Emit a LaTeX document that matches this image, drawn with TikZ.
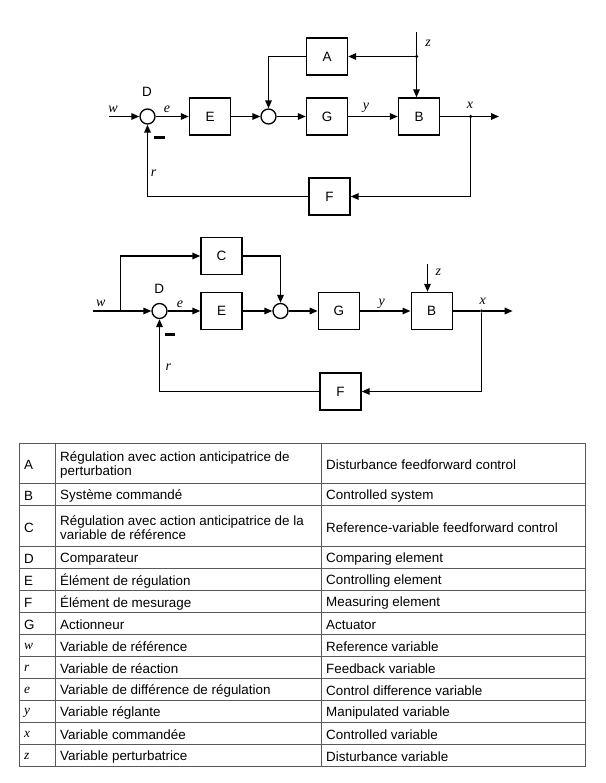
\documentclass[tikz,border=0pt]{standalone}
\usepackage{fontspec}
\setmainfont{Liberation Sans}
\newfontfamily\tmsfont{Liberation Serif}
\usepackage{tikz}
\usetikzlibrary{arrows.meta,positioning}
\newcommand{\vr}[1]{{\tmsfont\itshape #1}}

\tikzset{
  blk/.style={draw, line width=1.4pt, minimum width=41pt, minimum height=37pt, inner sep=0pt, font=\fontsize{13.5}{15}\selectfont},
  sumpt/.style={circle, draw, line width=1.3pt, minimum size=15pt, inner sep=0pt},
  sig/.style={line width=1.6pt},
  dot/.style={circle, fill, inner sep=0pt, minimum size=3.5pt},
  lbl/.style={font=\fontsize{14}{16}\selectfont\tmsfont\itshape, inner sep=0pt},
  tag/.style={font=\fontsize{13.5}{15}\selectfont, inner sep=0pt},
  tbl/.style={draw=black!65, line width=1pt},
  cell/.style={font=\fontsize{13.4}{14}\selectfont, anchor=west, inner sep=0pt, align=left},
}

\begin{document}
\begin{tikzpicture}[x=1pt,y=-1pt,>={Triangle[length=8pt,width=6.5pt]}]
        \useasboundingbox (0,0) rectangle (605,783);

        % Disturbance feedforward
        \coordinate (w1) at (109,116.5);
        \node[sumpt] (D1) at (147.5,116.5) {};
        \node[blk] (E1) at (210,116.5) {E};
        \node[sumpt] (S1) at (268.5,116.5) {};
        \node[blk] (G1) at (327,116.5) {G};
        \node[blk] (B1) at (419,116.5) {B};
        \node[dot] (X1) at (470.5,116.5) {};
        \coordinate (o1) at (499,116.5);
        \node[blk] (A1) at (327,56.5) {A};
        \coordinate (z1) at (416.5,32.5);
        \node[dot] (Z1) at (416.5,56.5) {};
        \node[blk] (F1) at (329.5,196.5) {F};

        \draw[sig,->] (w1) -- (D1);
        \draw[sig,->] (D1) -- (E1);
        \draw[sig,->] (E1) -- (S1);
        \draw[sig,->] (S1) -- (G1);
        \draw[sig,->] (G1) -- (B1);
        \draw[sig] (B1) -- (X1);
        \draw[sig,->] (X1) -- (o1);
        \draw[sig] (z1) -- (Z1);
        \draw[sig,->] (Z1) -- (Z1 |- B1.north);
        \draw[sig,->] (Z1) -- (A1);
        \draw[sig,->] (A1) -| (S1);
        \draw[sig,->] (X1) |- (F1);
        \draw[sig,->] (F1) -| (D1);

        \node[tag] (d1) at (147,92) {D};
        \node[lbl] (lw1) at (113,109) {w};
        \node[lbl] (le1) at (167,109) {e};
        \node[lbl] (ly1) at (366,108) {y};
        \node[lbl] (lx1) at (470,105) {x};
        \node[lbl] (lz1) at (428,43) {z};
        \node[lbl] (lr1) at (153.5,173) {r};
        \fill (154,136.5) rectangle (165,139.5);

        % Reference-variable feedforward
        \coordinate (w2) at (92.5,311);
        \coordinate (j2) at (120.5,311);
        \node[sumpt] (D2) at (159.5,311) {};
        \node[blk] (C2) at (221.5,256) {C};
        \node[blk] (E2) at (221.5,311) {E};
        \node[sumpt] (S2) at (280.5,311) {};
        \node[blk] (G2) at (338.8,311) {G};
        \node[blk] (B2) at (431.7,311) {B};
        \node[dot] (X2) at (481.5,311) {};
        \coordinate (o2) at (512.7,311);
        \coordinate (z2) at (427.5,264);
        \node[blk] (F2) at (340.5,391.5) {F};

        \draw[sig] (w2) -- (j2);
        \draw[sig,->] (j2) -- (D2);
        \draw[sig,->] (j2) |- (C2);
        \draw[sig,->] (C2) -| (S2);
        \draw[sig,->] (D2) -- (E2);
        \draw[sig,->] (E2) -- (S2);
        \draw[sig,->] (S2) -- (G2);
        \draw[sig,->] (G2) -- (B2);
        \draw[sig] (B2) -- (X2);
        \draw[sig,->] (X2) -- (o2);
        \draw[sig,->] (z2) -- (z2 |- B2.north);
        \draw[sig,->] (X2) |- (F2);
        \draw[sig,->] (F2) -| (D2);

        \node[tag] (d2) at (159.3,289.3) {D};
        \node[lbl] (lw2) at (100.7,303) {w};
        \node[lbl] (le2) at (180,304) {e};
        \node[lbl] (ly2) at (381.7,304) {y};
        \node[lbl] (lx2) at (482.7,301) {x};
        \node[lbl] (lz2) at (438.3,272.7) {z};
        \node[lbl] (lr2) at (168.3,367.3) {r};
        \fill (165,332.8) rectangle (175,335.8);

        % Legend table
        \draw[tbl] (19,443) rectangle (585,766);
        \draw[tbl] (55,443) -- (55,766);
        \draw[tbl] (321,443) -- (321,766);
        \foreach \y in {483.5,505.5,546,568,590,612,634,656,678,700,722,744}
            \draw[tbl] (19,\y) -- (585,\y);
        \foreach \y/\k/\fr/\en [count=\i] in {
            463.25/A/{Régulation avec action anticipatrice de\\perturbation}/Disturbance feedforward control,
            494.5/B/Système commandé/Controlled system,
            525.75/C/{Régulation avec action anticipatrice de la\\variable de référence}/Reference-variable feedforward control,
            557/D/Comparateur/Comparing element,
            579/E/Élément de régulation/Controlling element,
            601/F/Élément de mesurage/Measuring element,
            623/G/Actionneur/Actuator,
            645/\vr{w}/Variable de référence/Reference variable,
            667/\vr{r}/Variable de réaction/Feedback variable,
            689/\vr{e}/Variable de différence de régulation/Control difference variable,
            711/\vr{y}/Variable réglante/Manipulated variable,
            733/\vr{x}/Variable commandée/Controlled variable,
            755/\vr{z}/Variable perturbatrice/Disturbance variable}
        {
            \node[cell] (k\i) at (24,\y+1.8) {\k};
            \node[cell] (fr\i) at (60,\y+1.8) {\fr};
            \node[cell] (en\i) at (326,\y+1.8) {\en};
        }
    \end{tikzpicture}
\end{document}
